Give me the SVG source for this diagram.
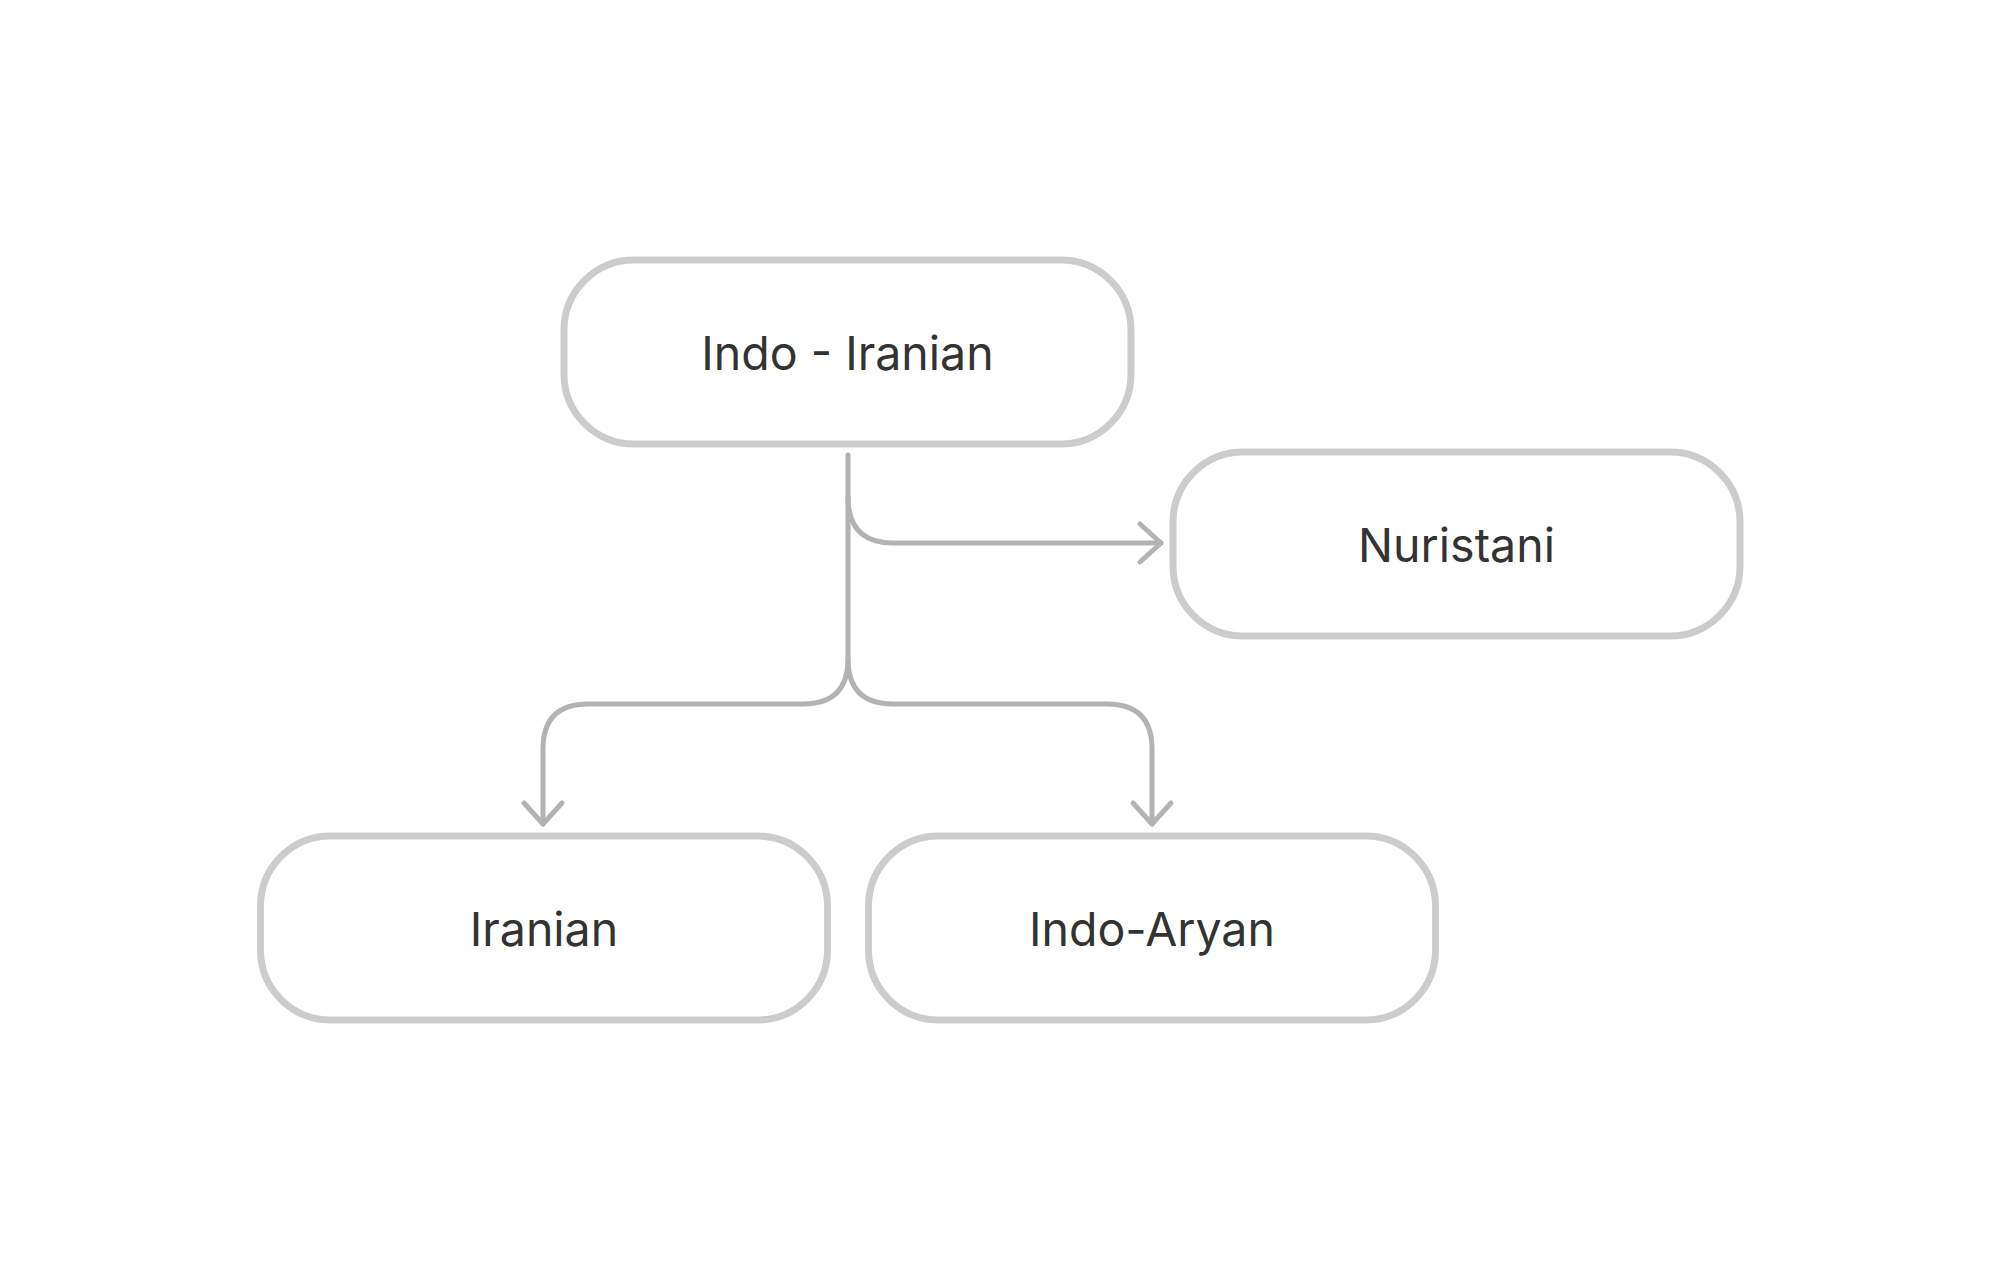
<svg xmlns="http://www.w3.org/2000/svg" width="2000" height="1280" viewBox="0 0 2000 1280">
  <style>
    .box { fill: #ffffff; stroke: #cccccc; stroke-width: 7; }
    .label { font-family: Inter, "Liberation Sans", sans-serif; font-size: 46.5px; fill: #333333; text-anchor: middle; }
    .conn { fill: none; stroke: #b3b3b3; stroke-width: 5; stroke-linecap: round; stroke-linejoin: round; }
  </style>
  <defs>
    <marker id="arrow" markerUnits="userSpaceOnUse" viewBox="-30 -30 40 60" refX="0" refY="0" markerWidth="40" markerHeight="60" orient="auto">
      <path d="M -21 -19 L 0 0 L -21 19" fill="none" stroke="#b3b3b3" stroke-width="5" stroke-linecap="round" stroke-linejoin="round"/>
    </marker>
  </defs>
  <rect width="2000" height="1280" fill="#ffffff"/>
  <g id="connectors">
    <path class="conn" d="M 848 455 V 497 Q 848 543 893 543 H 1161" marker-end="url(#arrow)"/>
    <path class="conn" d="M 848 497 V 659 Q 848 704 803 704 H 588 Q 543 704 543 749 V 824" marker-end="url(#arrow)"/>
    <path class="conn" d="M 848 659 Q 848 704 893 704 H 1107 Q 1152 704 1152 749 V 824" marker-end="url(#arrow)"/>
  </g>
  <g id="node-indo-iranian">
    <rect class="box" x="564" y="260" width="567" height="184" rx="70" ry="70"/>
    <text class="label" x="847.5" y="369.5">Indo - Iranian</text>
  </g>
  <g id="node-nuristani">
    <rect class="box" x="1173" y="452" width="567" height="184" rx="70" ry="70"/>
    <text class="label" x="1456.5" y="561.5">Nuristani</text>
  </g>
  <g id="node-iranian">
    <rect class="box" x="260.5" y="836" width="567" height="184" rx="70" ry="70"/>
    <text class="label" x="544" y="945.5">Iranian</text>
  </g>
  <g id="node-indo-aryan">
    <rect class="box" x="868.5" y="836" width="567" height="184" rx="70" ry="70"/>
    <text class="label" x="1152" y="945.5">Indo-Aryan</text>
  </g>
</svg>
